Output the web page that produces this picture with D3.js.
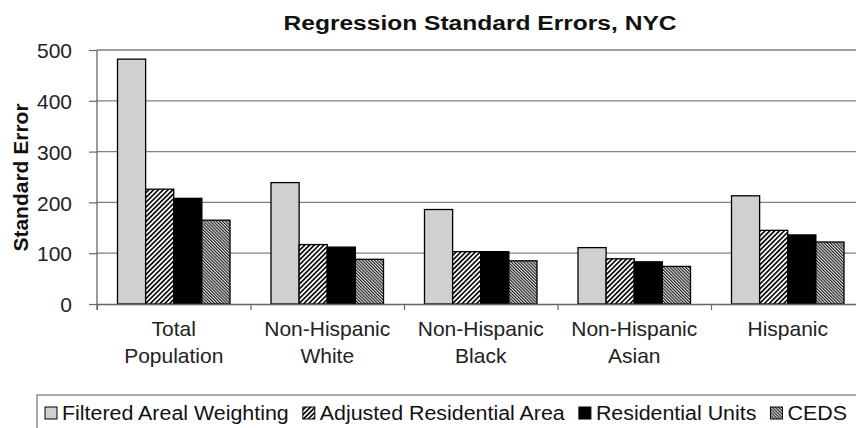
<!DOCTYPE html>
<html>
<head>
<meta charset="utf-8">
<script src="https://cdn.jsdelivr.net/npm/d3@7"></script>
<style>
  html, body { margin: 0; padding: 0; background: #fff; }
  svg { display: block; font-family: "Liberation Sans", Arial, sans-serif; }
</style>
</head>
<body>
<svg id="chart" width="856" height="428"></svg>
<script>
// ---- data ----
const categories = ["Total Population", "Non-Hispanic White", "Non-Hispanic Black", "Non-Hispanic Asian", "Hispanic"];
const categoryLines = [["Total", "Population"], ["Non-Hispanic", "White"], ["Non-Hispanic", "Black"], ["Non-Hispanic", "Asian"], ["Hispanic"]];
const seriesNames = ["Filtered Areal Weighting", "Adjusted Residential Area", "Residential Units", "CEDS"];
const filteredArealWeighting = [482, 239, 186, 111, 213];
const adjustedResidentialArea = [226, 117, 103, 89, 145];
const residentialUnits = [208, 112, 103, 83, 136];
const ceds = [165, 88, 85, 74, 122];
const yTicks = [0, 100, 200, 300, 400, 500];
const titleText = "Regression Standard Errors, NYC";
const yAxisTitle = "Standard Error";

const seriesValues = [filteredArealWeighting, adjustedResidentialArea, residentialUnits, ceds];
const table = categories.map((c, i) => ({ cat: c, values: seriesNames.map((s, j) => ({ series: s, value: seriesValues[j][i] })) }));

// ---- layout ----
const svg = d3.select("#chart");
const FS = 20, SX = 1.05;
// horizontal glyph stretch via transform (keeps anchor position)
function hstretch(sel, pre, sx) {
  const k = sx || SX;
  sel.each(function () {
    const t = d3.select(this);
    const x = +t.attr("x") || 0, yy = +t.attr("y") || 0;
    t.attr("x", 0).attr("y", 0)
     .attr("transform", (pre || "") + ` translate(${x},${yy}) scale(${k},1)`);
  });
}

const plotLeft = 97, plotTop = 50, plotBottom = 304, catWidth = 153.5;
const x0 = d3.scaleBand().domain(categories).range([plotLeft, plotLeft + catWidth * categories.length]).padding(0);
const x1 = d3.scaleBand().domain(seriesNames).range([20.5, 133]).padding(0);
const y = d3.scaleLinear().domain([0, 500]).range([plotBottom, plotTop]);

// ---- patterns ----
const defs = svg.append("defs");
const hatch = defs.append("pattern").attr("id", "hatch").attr("patternUnits", "userSpaceOnUse")
  .attr("width", 3.4).attr("height", 10).attr("patternTransform", "rotate(45)");
hatch.append("rect").attr("width", 3.4).attr("height", 10).attr("fill", "#fff");
hatch.append("rect").attr("x", 0).attr("width", 1.6).attr("height", 10).attr("fill", "#000");

const dense = defs.append("pattern").attr("id", "dense").attr("patternUnits", "userSpaceOnUse")
  .attr("width", 2.2).attr("height", 10).attr("patternTransform", "rotate(-45)");
dense.append("rect").attr("width", 2.2).attr("height", 10).attr("fill", "#e4e4e4");
dense.append("rect").attr("x", 0).attr("width", 1.1).attr("height", 10).attr("fill", "#1a1a1a");

const fills = { "Filtered Areal Weighting": "#d0d0d0", "Adjusted Residential Area": "url(#hatch)", "Residential Units": "#000", "CEDS": "url(#dense)" };

// ---- gridlines ----
svg.append("g").selectAll("line").data(yTicks.filter(t => t > 0)).join("line")
  .attr("x1", plotLeft).attr("x2", 856)
  .attr("y1", d => y(d)).attr("y2", d => y(d))
  .attr("stroke", "#808080").attr("stroke-width", 1.3);

// ---- bars ----
const groups = svg.append("g").selectAll("g").data(table).join("g")
  .attr("transform", d => `translate(${x0(d.cat)},0)`);
groups.selectAll("rect").data(d => d.values).join("rect")
  .attr("x", d => x1(d.series))
  .attr("y", d => y(d.value))
  .attr("width", x1.bandwidth())
  .attr("height", d => y(0) - y(d.value))
  .attr("fill", d => fills[d.series])
  .attr("stroke", "#000").attr("stroke-width", 1.3);

// ---- y axis ----
const yAxis = svg.append("g").attr("transform", `translate(${plotLeft},0)`)
  .call(d3.axisLeft(y).tickValues(yTicks).tickSize(8).tickPadding(17).tickSizeOuter(0));
yAxis.select(".domain").attr("stroke", "#666").attr("stroke-width", 1.3).attr("d", `M0,${plotTop}V${plotBottom + 6}`);
yAxis.selectAll(".tick line").attr("stroke", "#666").attr("stroke-width", 1.2);
yAxis.selectAll(".tick text").attr("font-size", FS).attr("fill", "#222")
  .attr("font-family", "Liberation Sans, Arial, sans-serif").attr("dy", "0.38em").call(hstretch);

// ---- x axis ----
const xIdx = d3.scaleLinear().domain([0, categories.length]).range([plotLeft, plotLeft + catWidth * categories.length]);
const xAxis = svg.append("g").attr("transform", `translate(0,${plotBottom})`)
  .call(d3.axisBottom(xIdx).tickValues(d3.range(categories.length + 1)).tickFormat("").tickSize(6).tickSizeOuter(0));
xAxis.select(".domain").attr("stroke", "#666").attr("stroke-width", 1.3);
xAxis.selectAll(".tick line").attr("stroke", "#666").attr("stroke-width", 1.2);

const xLabelData = [];
categories.forEach((c, i) => categoryLines[i].forEach((line, k) => xLabelData.push({ c, line, k })));
svg.append("g").selectAll("text").data(xLabelData).join("text")
  .attr("text-anchor", "middle").attr("font-size", FS).attr("fill", "#222")
  .attr("x", d => x0(d.c) + x0.bandwidth() / 2).attr("y", d => 336 + d.k * 27)
  .text(d => d.line).call(hstretch);

// ---- titles ----
svg.append("text").attr("x", 480).attr("y", 30).attr("text-anchor", "middle")
  .attr("font-size", 21).attr("font-weight", "bold").attr("fill", "#111").text(titleText).call(hstretch, "", 1.17);
svg.append("text").attr("text-anchor", "middle")
  .attr("font-size", FS).attr("font-weight", "bold").attr("fill", "#111").text(yAxisTitle)
  .call(hstretch, "translate(28,177.5) rotate(-90)");

// ---- legend ----
const LSX = 1.07;
const legend = svg.append("g");
legend.append("rect").attr("x", 37).attr("y", 395).attr("width", 840).attr("height", 60)
  .attr("fill", "#fff").attr("stroke", "#808080").attr("stroke-width", 1.3);
let lx = 45;
seriesNames.forEach(s => {
  legend.append("rect").attr("x", lx).attr("y", 407).attr("width", 12).attr("height", 12)
    .attr("fill", fills[s]).attr("stroke", "#000").attr("stroke-width", 1);
  const t = legend.append("text").attr("x", lx + 17).attr("y", 419.5).attr("font-size", FS).attr("fill", "#111").text(s);
  const w = t.node().getComputedTextLength() * LSX;
  t.call(hstretch, "", LSX);
  lx = lx + 17 + w + 14;
});
</script>
</body>
</html>
